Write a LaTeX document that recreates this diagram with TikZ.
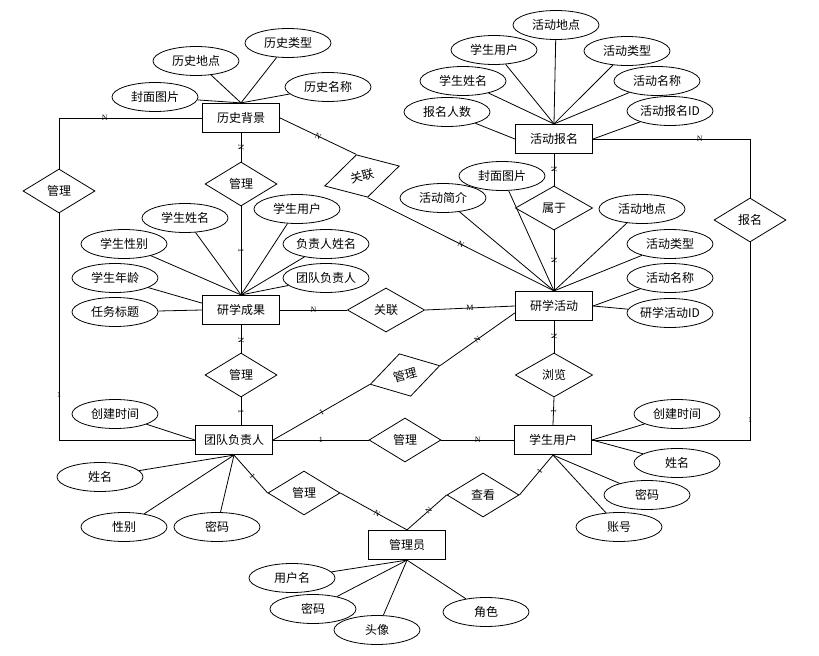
\documentclass[tikz,border=0pt]{standalone}
\usepackage{fontspec}
\setmainfont{Liberation Serif}
\newfontfamily\cjk{Noto Sans CJK SC}
\usetikzlibrary{shapes.geometric}

\begin{document}
\begin{tikzpicture}[x=0.75pt, y=-0.75pt, line width=0.6pt,
  entity/.style={draw, line width=0.9pt, minimum width=57.75pt, minimum height=21.75pt,
    inner sep=0pt, font=\cjk\fontsize{9}{10}\selectfont},
  attr/.style={draw, ellipse, minimum width=64.5pt, minimum height=21.75pt,
    inner sep=0pt, font=\cjk\fontsize{9}{10}\selectfont},
  rel/.style={draw, diamond, minimum width=54pt, minimum height=33pt,
    inner sep=0pt, font=\cjk\fontsize{9}{10}\selectfont},
  wide/.style={minimum width=58pt},
  card/.style={font=\fontsize{6}{6}\selectfont, inner sep=0pt}]
  \useasboundingbox (0,0) rectangle (819,656);
  % Entities
  \node[entity] (hb) at (241,118) {历史背景};
  \node[entity] (bm) at (554,139) {活动报名};
  \node[entity] (cg) at (241,310) {研学成果};
  \node[entity] (hd) at (554,306) {研学活动};
  \node[entity] (td) at (234,440) {团队负责人};
  \node[entity] (xs) at (553,440) {学生用户};
  \node[entity] (gly) at (407,545) {管理员};
  % Relations
  \node[rel] (r1) at (59,191) {管理};
  \node[rel] (r2) at (241,184) {管理};
  \node[rel, wide, rotate=15] (r3) at (362,176) {关联};
  \node[rel, wide] (r4) at (554,208) {属于};
  \node[rel] (r5) at (750,220) {报名};
  \node[rel, wide] (r6) at (386,310) {关联};
  \node[rel] (r7) at (241,375) {管理};
  \node[rel, rotate=15] (r8) at (405,375) {管理};
  \node[rel] (r9) at (405,440) {管理};
  \node[rel, wide] (r10) at (554,375) {浏览};
  \node[rel] (r11) at (304,493) {管理};
  \node[rel] (r12) at (483,495) {查看};
  % Attributes of 历史背景
  \node[attr] (hb1) at (155,97) {封面图片};
  \node[attr] (hb2) at (196,61) {历史地点};
  \node[attr] (hb3) at (288,43) {历史类型};
  \node[attr] (hb4) at (328,87) {历史名称};
  \foreach \a in {hb1,hb2,hb3,hb4} \draw (\a) -- (hb.north);
  % Attributes of 活动报名
  \node[attr] (bm1) at (556,25) {活动地点};
  \node[attr] (bm2) at (494,50) {学生用户};
  \node[attr] (bm3) at (627,51) {活动类型};
  \node[attr] (bm4) at (463,81) {学生姓名};
  \node[attr] (bm5) at (657,81) {活动名称};
  \node[attr] (bm6) at (447,112) {报名人数};
  \node[attr] (bm7) at (670,111) {活动报名ID};
  \foreach \a in {bm1,bm2,bm3,bm4,bm5} \draw (\a) -- (bm.north);
  \draw (bm6) -- (bm.west);
  \draw (bm7) -- (bm.east);
  % Attributes of 研学成果
  \node[attr] (cg1) at (185,218) {学生姓名};
  \node[attr] (cg2) at (297,209) {学生用户};
  \node[attr] (cg3) at (124,244) {学生性别};
  \node[attr] (cg4) at (326,244) {负责人姓名};
  \node[attr] (cg5) at (115,278) {学生年龄};
  \node[attr] (cg6) at (326,278) {团队负责人};
  \node[attr] (cg7) at (115,312) {任务标题};
  \foreach \a in {cg1,cg2,cg3,cg4,cg6} \draw (\a) -- (cg.north);
  \draw (cg5) -- (cg.170);
  \draw (cg7) -- (cg.west);
  % Attributes of 研学活动
  \node[attr] (hd1) at (502,176) {封面图片};
  \node[attr] (hd2) at (443,198) {活动简介};
  \node[attr] (hd3) at (642,209) {活动地点};
  \node[attr] (hd4) at (670,244) {活动类型};
  \node[attr] (hd5) at (670,278) {活动名称};
  \node[attr] (hd6) at (670,313) {研学活动ID};
  \foreach \a in {hd1,hd2,hd3,hd4} \draw (\a) -- (hd.north);
  \draw (hd5) -- (hd.east);
  \draw (hd6) -- (hd.east);
  % Attributes of 团队负责人
  \node[attr] (td1) at (115,414) {创建时间};
  \node[attr] (td2) at (100,477) {姓名};
  \node[attr] (td3) at (124,527) {性别};
  \node[attr] (td4) at (217,527) {密码};
  \draw (td1) -- (td.west);
  \foreach \a in {td2,td3,td4} \draw (\a) -- (td.south);
  % Attributes of 学生用户
  \node[attr] (xs1) at (677,414) {创建时间};
  \node[attr] (xs2) at (677,463) {姓名};
  \node[attr] (xs3) at (647,495) {密码};
  \node[attr] (xs4) at (619,527) {账号};
  \draw (xs1) -- (xs.east);
  \draw (xs2) -- (xs.east);
  \draw (xs3) -- (xs.south);
  \draw (xs4) -- (xs.south);
  % Attributes of 管理员
  \node[attr] (gl1) at (292,578) {用户名};
  \node[attr] (gl2) at (313,609) {密码};
  \node[attr] (gl3) at (377,630) {头像};
  \node[attr] (gl4) at (486,612) {角色};
  \foreach \a in {gl1,gl2,gl3,gl4} \draw (\a) -- (gly.south);
  % Relationship lines
  \draw (hb.west) -| (r1.north) node[card, pos=0.34] {N};
  \draw (r1.south) |- (td.west) node[card, pos=0.4] {1};
  \draw (hb.south) -- (r2.north) node[card, sloped, pos=0.5] {N};
  \draw (r2.south) -- (cg.north) node[card, sloped, pos=0.5] {1};
  \draw (hb.east) -- (r3.north) node[card, sloped, pos=0.5] {N};
  \draw (r3.south) -- (hd.north) node[card, sloped, pos=0.5] {N};
  \draw (bm.east) -| (r5.north) node[card, pos=0.34] {N};
  \draw (r5.south) |- (xs.east) node[card, pos=0.45] {1};
  \draw (bm.south) -- (r4.north) node[card, sloped, pos=0.5] {N};
  \draw (r4.south) -- (hd.north) node[card, sloped, pos=0.5] {N};
  \draw (cg.east) -- (r6.west) node[card, pos=0.5] {N};
  \draw (r6.east) -- (hd.west) node[card, pos=0.5] {M};
  \draw (cg.south) -- (r7.north) node[card, sloped, pos=0.55] {N};
  \draw (r7.south) -- (r7.south |- td.north) node[card, sloped, pos=0.5] {1};
  \draw (td.east) -- (r8.west) node[card, sloped, pos=0.5] {1};
  \draw (r8.east) -- (hd.190) node[card, sloped, pos=0.5] {N};
  \draw (td.east) -- (r9.west) node[card, pos=0.5] {1};
  \draw (r9.east) -- (xs.west) node[card, pos=0.5] {N};
  \draw (hd.south) -- (r10.north) node[card, sloped, pos=0.5] {N};
  \draw (r10.south) -- (xs.north) node[card, sloped, pos=0.5] {1};
  \draw (td.south) -- (r11.west) node[card, sloped, pos=0.55] {1};
  \draw (r11.east) -- (gly.north) node[card, sloped, pos=0.55] {N};
  \draw (xs.south) -- (r12.east) node[card, sloped, pos=0.4] {1};
  \draw (r12.west) -- (gly.north) node[card, sloped, pos=0.45] {N};
\end{tikzpicture}
\end{document}
